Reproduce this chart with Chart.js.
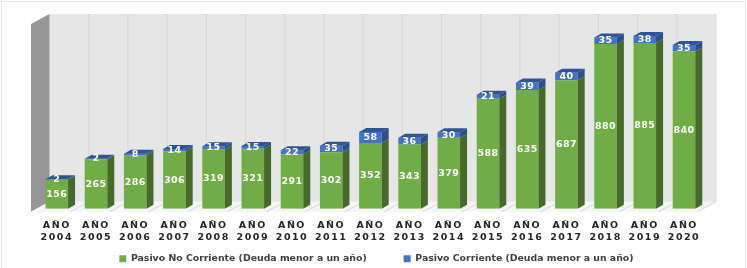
<!DOCTYPE html>
<html>
<head>
<meta charset="utf-8">
<style>
  html, body { margin: 0; padding: 0; background: #ffffff; }
  canvas { display: block; filter: blur(0.45px); }
</style>
<script src="https://cdn.jsdelivr.net/npm/chart.js@4"></script>
</head>
<body>
<canvas id="deuda-chart" width="747" height="268"></canvas>
<script>
const years = ['2004', '2005', '2006', '2007', '2008', '2009', '2010', '2011', '2012', '2013', '2014', '2015', '2016', '2017', '2018', '2019', '2020'];
const pasivoNoCorriente = [156, 265, 286, 306, 319, 321, 291, 302, 352, 343, 379, 588, 635, 687, 880, 885, 840];
const pasivoCorriente = [2, 2, 8, 14, 15, 15, 22, 35, 58, 36, 30, 21, 39, 40, 35, 38, 35];

const FONT = "'DejaVu Sans', sans-serif";
const LEGEND_GAP = 37;

// The legend padding is both the item gap and the vertical margin, so
// reserve only a small height and put the legend where it belongs
const legendPlace = {
  id: 'legendPlace',
  beforeLayout(chart) {
    const legend = chart.legend;
    if (!legend._patched) {
      const fit = legend.fit;
      legend.fit = function () {
        fit.call(this);
        this.height = 16;
      };
      legend._patched = true;
    }
  },
  afterLayout(chart) {
    const legend = chart.legend;
    legend.top = 254 - LEGEND_GAP;
    legend.bottom = 268;
    legend.left += 6;
    legend.right += 6;
  }
};

// Walls and floor of the 3D box, placed from the category scale
const box3d = {
  id: 'box3d',
  beforeDraw(chart) {
    const { ctx, chartArea, scales } = chart;
    const x = scales.x;
    const cell = x.getPixelForValue(1) - x.getPixelForValue(0);
    const left = chartArea.left - 6.2;
    const floorY = chartArea.bottom + 3;
    const dx = 18.5;
    const dy = 10;
    const count = years.length;
    const right = left + cell * count;
    const top = 24;

    // patch once so only the tick labels get the wide tracking
    if (!x._tracked) {
      const drawLabels = x.drawLabels;
      x.drawLabels = function (area) {
        ctx.letterSpacing = '1.5px';
        drawLabels.call(this, area);
        ctx.letterSpacing = '0px';
      };
      x._tracked = true;
    }

    ctx.save();
    ctx.strokeStyle = '#e6e6e6';
    ctx.lineWidth = 1;
    ctx.strokeRect(1.5, 1.5, 744, 290);

    // back wall
    ctx.fillStyle = '#e6e6e6';
    ctx.fillRect(left + dx, top - dy, right - left, floorY - top);

    // left wall
    ctx.fillStyle = '#969696';
    ctx.beginPath();
    ctx.moveTo(left, top);
    ctx.lineTo(left + dx, top - dy);
    ctx.lineTo(left + dx, floorY - dy);
    ctx.lineTo(left, floorY);
    ctx.closePath();
    ctx.fill();

    // floor
    ctx.fillStyle = '#f6f6f6';
    ctx.beginPath();
    ctx.moveTo(left, floorY);
    ctx.lineTo(left + dx, floorY - dy);
    ctx.lineTo(right + dx, floorY - dy);
    ctx.lineTo(right, floorY);
    ctx.closePath();
    ctx.fill();

    // grid lines across wall and floor
    ctx.strokeStyle = '#d6d6d6';
    for (let i = 1; i <= count; i++) {
      const gx = left + cell * i;
      ctx.beginPath();
      ctx.moveTo(gx, floorY);
      ctx.lineTo(gx + dx, floorY - dy);
      ctx.lineTo(gx + dx, top - dy);
      ctx.stroke();
    }
    ctx.restore();
  }
};

// Side and top faces of each bar, then the value labels
const barFaces = {
  id: 'barFaces',
  afterDatasetsDraw(chart) {
    const { ctx } = chart;
    const depthX = 7;
    const depthY = 4;
    const sideColors = ['#47692a', '#2b4f8e'];
    const topColor = '#2f5597';

    ctx.save();
    chart.data.datasets.forEach((dataset, d) => {
      chart.getDatasetMeta(d).data.forEach((bar) => {
        const right = bar.x + bar.width / 2;
        const left = bar.x - bar.width / 2;
        ctx.fillStyle = sideColors[d];
        ctx.beginPath();
        ctx.moveTo(right, bar.base);
        ctx.lineTo(right + depthX, bar.base - depthY);
        ctx.lineTo(right + depthX, bar.y - depthY);
        ctx.lineTo(right, bar.y);
        ctx.closePath();
        ctx.fill();
        if (d === 1) {
          ctx.fillStyle = topColor;
          ctx.beginPath();
          ctx.moveTo(left, bar.y);
          ctx.lineTo(left + depthX, bar.y - depthY);
          ctx.lineTo(right + depthX, bar.y - depthY);
          ctx.lineTo(right, bar.y);
          ctx.closePath();
          ctx.fill();
        }
      });
    });

    ctx.fillStyle = '#ffffff';
    ctx.font = 'bold 9.5px ' + FONT;
    ctx.letterSpacing = '0.4px';
    ctx.textAlign = 'center';
    ctx.textBaseline = 'middle';
    chart.data.datasets.forEach((dataset, d) => {
      chart.getDatasetMeta(d).data.forEach((bar, i) => {
        ctx.fillText(dataset.data[i], bar.x, (bar.y + bar.base) / 2);
      });
    });
    ctx.letterSpacing = '0px';
    ctx.restore();
  }
};

const ctx = document.getElementById('deuda-chart').getContext('2d');
window.deudaChart = new Chart(ctx, {
  type: 'bar',
  data: {
    labels: years.map((year) => ['AÑO', year]),
    datasets: [
      {
        label: 'Pasivo No Corriente (Deuda menor a un año)',
        data: pasivoNoCorriente,
        backgroundColor: '#70ad47'
      },
      {
        label: 'Pasivo Corriente (Deuda menor a un año)',
        data: pasivoCorriente,
        backgroundColor: '#4472c4'
      }
    ]
  },
  options: {
    responsive: false,
    animation: false,
    layout: {
      padding: { top: 21.5, left: 37.2, right: 43.4, bottom: 5 }
    },
    datasets: {
      bar: { categoryPercentage: 0.575, barPercentage: 1 }
    },
    scales: {
      x: {
        stacked: true,
        grid: { display: false },
        border: { display: false },
        ticks: {
          color: '#262626',
          padding: 3,
          maxRotation: 0,
          autoSkip: false,
          font: { size: 9.5, weight: 'bold', family: FONT, lineHeight: 1.27 }
        }
      },
      y: {
        stacked: true,
        display: false,
        min: 0,
        max: 1000
      }
    },
    plugins: {
      legend: {
        position: 'bottom',
        labels: {
          boxWidth: 7,
          boxHeight: 7,
          padding: LEGEND_GAP,
          color: '#404040',
          font: { size: 9.35, weight: 'bold', family: FONT }
        }
      },
      tooltip: { enabled: false }
    }
  },
  plugins: [legendPlace, box3d, barFaces]
});
</script>
</body>
</html>
